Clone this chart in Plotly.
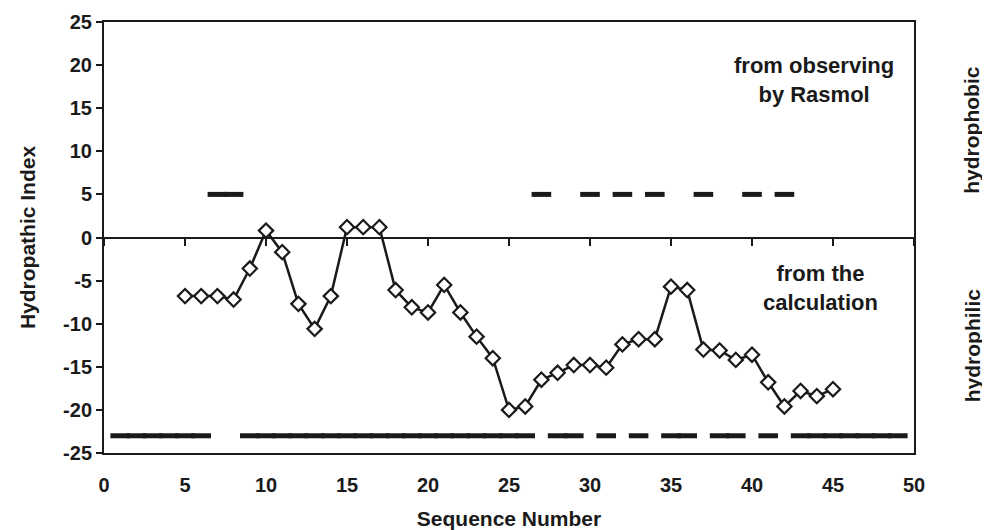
import plotly.graph_objects as go

# Calculated hydropathic index (diamonds)
calc_x = list(range(5, 46))
calc_y = [-6.8, -6.8, -6.8, -7.2, -3.6, 0.8, -1.7, -7.7, -10.6, -6.8,
          1.2, 1.2, 1.2, -6.1, -8.1, -8.7, -5.5, -8.7, -11.5, -14.0,
          -20.0, -19.6, -16.5, -15.7, -14.8, -14.8, -15.1, -12.4, -11.8, -11.8,
          -5.7, -6.1, -13.0, -13.1, -14.2, -13.6, -16.8, -19.6, -17.8, -18.4,
          -17.6]

# Residues observed by Rasmol
phobic_x = [7, 8, 27, 30, 32, 34, 37, 40, 42]
phobic_y = [5] * len(phobic_x)
philic_x = [1, 2, 3, 4, 5, 6,
            9, 10, 11, 12, 13, 14, 15, 16, 17, 18, 19, 20, 21, 22, 23, 24, 25, 26,
            28, 29, 31, 33, 35, 36, 38, 39, 41,
            43, 44, 45, 46, 47, 48, 49]
philic_y = [-23] * len(philic_x)

x_ticks = list(range(0, 51, 5))
y_ticks = list(range(-25, 26, 5))
y_tick_text = [str(v) for v in y_ticks]

FONT = "Liberation Sans, Arial, sans-serif"
INK = "#1a1a1a"

fig = go.Figure()

fig.add_trace(go.Scatter(
    x=calc_x, y=calc_y, mode="lines+markers",
    line=dict(color=INK, width=2.5),
    marker=dict(symbol="diamond", size=11, color="white",
                line=dict(color=INK, width=2.2)),
    showlegend=False, hoverinfo="x+y"))

for xs, ys in ((phobic_x, phobic_y), (philic_x, philic_y)):
    fig.add_trace(go.Scatter(
        x=xs, y=ys, mode="markers",
        marker=dict(symbol="line-ew", size=14,
                    line=dict(color=INK, width=5)),
        showlegend=False, hoverinfo="x+y"))

# invisible trace on the zero-positioned axis so it renders
fig.add_trace(go.Scatter(x=[0, 50], y=[0, 0], xaxis="x2", mode="lines",
                         line=dict(width=0), showlegend=False, hoverinfo="skip"))

tickfont = dict(family=FONT, size=20, color=INK, weight="bold")
titlefont = dict(family=FONT, size=21, color=INK, weight="bold")
notefont = dict(family=FONT, size=22, color=INK, weight="bold")

fig.update_layout(
    width=990, height=530,
    margin=dict(l=96, r=84, t=14, b=85),
    paper_bgcolor="white", plot_bgcolor="white",
    xaxis=dict(range=[0, 50], tickvals=x_ticks, ticks="",
               showline=True, mirror=True, linecolor=INK, linewidth=2,
               showgrid=False, zeroline=False, tickfont=tickfont,
               ticklabelstandoff=13, automargin=False,
               title=dict(text="Sequence Number", font=titlefont, standoff=16)),
    xaxis2=dict(range=[0, 50], overlaying="x", anchor="free", position=0.5,
                tickvals=x_ticks, ticks="outside", ticklen=7, tickwidth=2,
                tickcolor=INK, showticklabels=False, showline=True,
                linecolor=INK, linewidth=2, showgrid=False, zeroline=False,
                automargin=False),
    yaxis=dict(range=[-25, 25], tickvals=y_ticks, ticktext=y_tick_text,
               ticks="outside", ticklen=6,
               tickwidth=2, tickcolor=INK, showline=True, mirror=True,
               linecolor=INK, linewidth=2, showgrid=False, zeroline=False,
               tickfont=tickfont, automargin=False,
               title=dict(text="Hydropathic Index", font=titlefont, standoff=22)),
    annotations=[
        dict(x=43.8, y=18.3, xref="x", yref="y", showarrow=False,
             text="from observing<br>by Rasmol", font=notefont, align="center",
             xanchor="center", yanchor="middle"),
        dict(x=44.2, y=-5.8, xref="x", yref="y", showarrow=False,
             text="from the<br>calculation", font=notefont, align="center",
             xanchor="center", yanchor="middle"),
        dict(x=1.0716, y=0.75, xref="paper", yref="paper", showarrow=False,
             text="hydrophobic", textangle=-90, font=titlefont,
             xanchor="center", yanchor="middle"),
        dict(x=1.0716, y=0.25, xref="paper", yref="paper", showarrow=False,
             text="hydrophilic", textangle=-90, font=titlefont,
             xanchor="center", yanchor="middle"),
    ],
)

fig.write_html("out.html")
